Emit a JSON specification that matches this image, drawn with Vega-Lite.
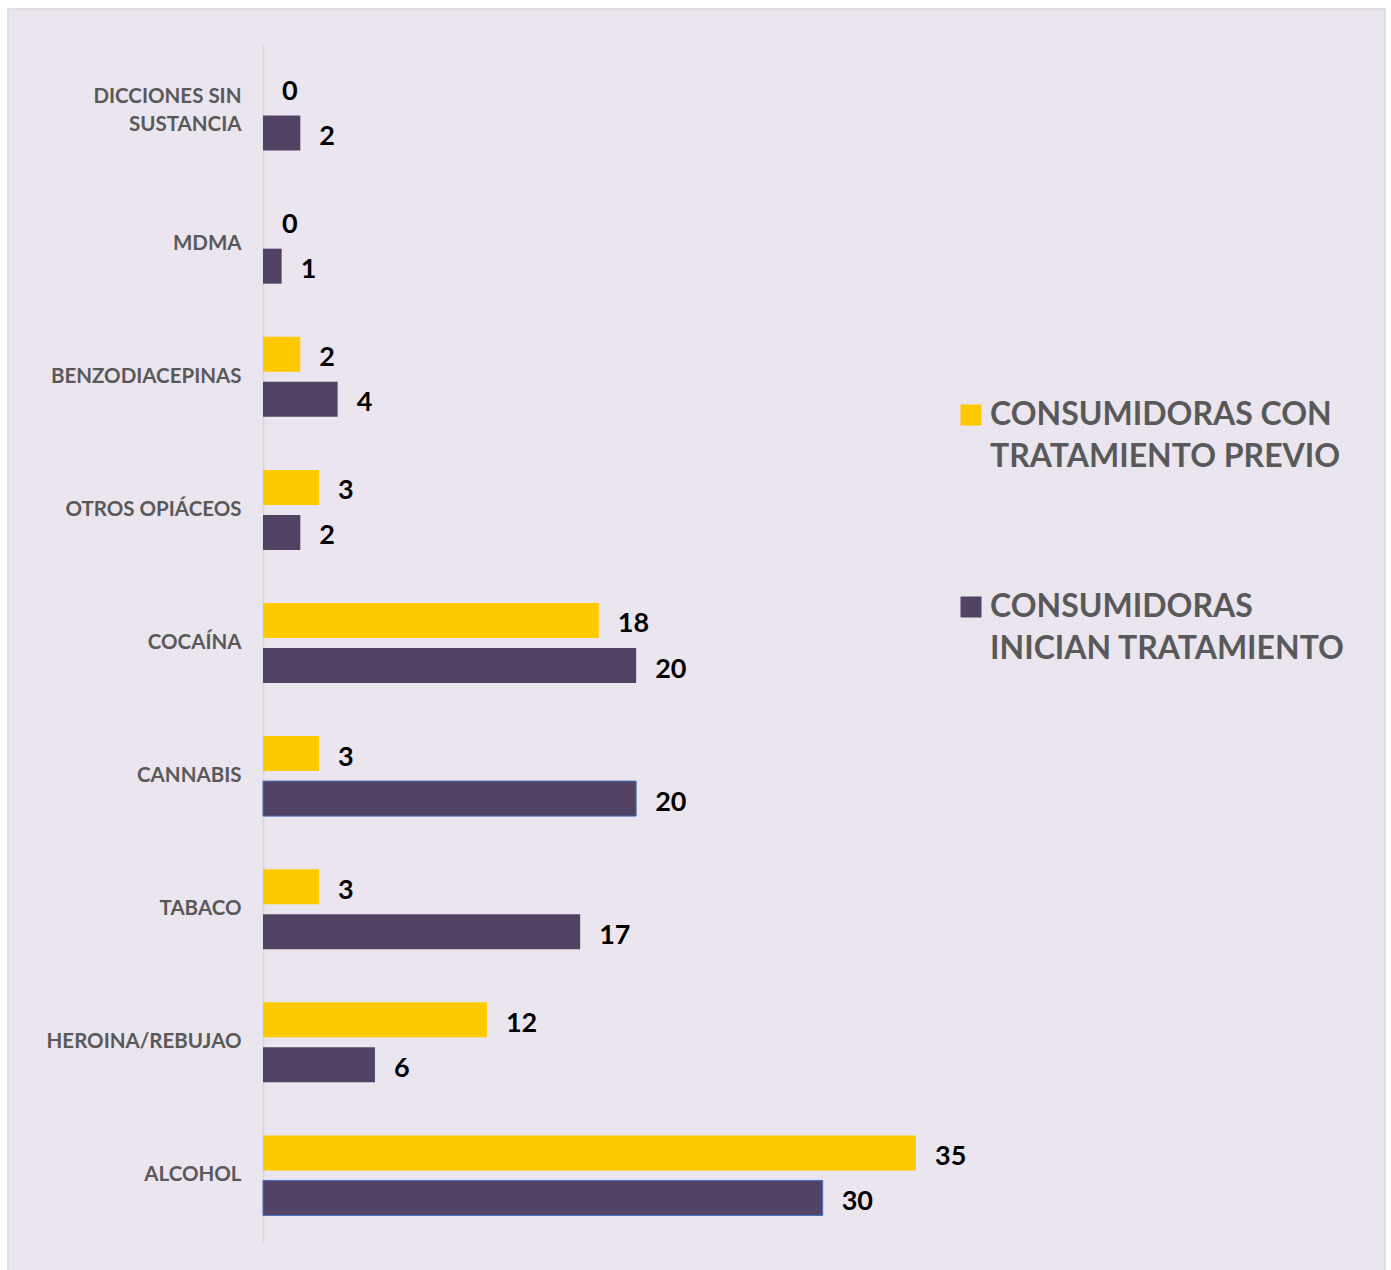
{
  "$schema": "https://vega.github.io/schema/vega-lite/v6.json",
  "width": 1377,
  "height": 1262,
  "autosize": "none",
  "padding": {"left": 8, "top": 9, "right": 6, "bottom": 0},
  "background": "#FFFFFF",
  "config": {
    "view": {"fill": "#EBE5F0", "stroke": "#D9D9D9", "strokeWidth": 1.5},
    "font": "Lato",
    "style": {"guide-label": {"lineHeight": 42}}
  },
  "data": {
    "values": [
      {"category": "DICCIONES SIN SUSTANCIA", "series": "CONSUMIDORAS CON TRATAMIENTO PREVIO", "value": 0},
      {"category": "DICCIONES SIN SUSTANCIA", "series": "CONSUMIDORAS INICIAN TRATAMIENTO", "value": 2},
      {"category": "MDMA", "series": "CONSUMIDORAS CON TRATAMIENTO PREVIO", "value": 0},
      {"category": "MDMA", "series": "CONSUMIDORAS INICIAN TRATAMIENTO", "value": 1},
      {"category": "BENZODIACEPINAS", "series": "CONSUMIDORAS CON TRATAMIENTO PREVIO", "value": 2},
      {"category": "BENZODIACEPINAS", "series": "CONSUMIDORAS INICIAN TRATAMIENTO", "value": 4},
      {"category": "OTROS OPIÁCEOS", "series": "CONSUMIDORAS CON TRATAMIENTO PREVIO", "value": 3},
      {"category": "OTROS OPIÁCEOS", "series": "CONSUMIDORAS INICIAN TRATAMIENTO", "value": 2},
      {"category": "COCAÍNA", "series": "CONSUMIDORAS CON TRATAMIENTO PREVIO", "value": 18},
      {"category": "COCAÍNA", "series": "CONSUMIDORAS INICIAN TRATAMIENTO", "value": 20},
      {"category": "CANNABIS", "series": "CONSUMIDORAS CON TRATAMIENTO PREVIO", "value": 3},
      {"category": "CANNABIS", "series": "CONSUMIDORAS INICIAN TRATAMIENTO", "value": 20},
      {"category": "TABACO", "series": "CONSUMIDORAS CON TRATAMIENTO PREVIO", "value": 3},
      {"category": "TABACO", "series": "CONSUMIDORAS INICIAN TRATAMIENTO", "value": 17},
      {"category": "HEROINA/REBUJAO", "series": "CONSUMIDORAS CON TRATAMIENTO PREVIO", "value": 12},
      {"category": "HEROINA/REBUJAO", "series": "CONSUMIDORAS INICIAN TRATAMIENTO", "value": 6},
      {"category": "ALCOHOL", "series": "CONSUMIDORAS CON TRATAMIENTO PREVIO", "value": 35},
      {"category": "ALCOHOL", "series": "CONSUMIDORAS INICIAN TRATAMIENTO", "value": 30}
    ]
  },
  "encoding": {
    "x": {
      "field": "value",
      "type": "quantitative",
      "scale": {"domain": [0, 35], "range": [255, 908], "nice": false},
      "axis": null
    },
    "y": {
      "field": "category",
      "type": "nominal",
      "sort": ["DICCIONES SIN SUSTANCIA", "MDMA", "BENZODIACEPINAS", "OTROS OPIÁCEOS", "COCAÍNA", "CANNABIS", "TABACO", "HEROINA/REBUJAO", "ALCOHOL"],
      "scale": {"range": [35, 1233], "paddingInner": 0, "paddingOuter": 0},
      "axis": {
        "title": null,
        "offset": -255,
        "domain": true,
        "domainColor": "#D9D9D9",
        "domainWidth": 2,
        "ticks": false,
        "grid": false,
        "labelPadding": 22,
        "labelFont": "Lato",
        "labelFontWeight": "bold",
        "labelFontSize": 20.5,
        "labelColor": "#595959",
        "labelLimit": 300,
        "labelLineHeight": 28,
        "labelOffset": {"condition": {"test": "datum.value == 'DICCIONES SIN SUSTANCIA'", "value": -14}, "value": 0},
        "labelExpr": "datum.value == 'DICCIONES SIN SUSTANCIA' ? ['DICCIONES SIN', 'SUSTANCIA'] : datum.value"
      }
    },
    "yOffset": {
      "field": "series",
      "type": "nominal",
      "sort": ["CONSUMIDORAS CON TRATAMIENTO PREVIO", "CONSUMIDORAS INICIAN TRATAMIENTO"],
      "scale": {"paddingInner": 0.222, "paddingOuter": 0.59}
    }
  },
  "layer": [
    {
      "mark": {"type": "bar"},
      "encoding": {
        "color": {
          "field": "series",
          "type": "nominal",
          "sort": ["CONSUMIDORAS CON TRATAMIENTO PREVIO", "CONSUMIDORAS INICIAN TRATAMIENTO"],
          "scale": {"range": ["#FFC900", "#524364"]},
          "legend": {
            "title": null,
            "orient": "none",
            "legendX": 947,
            "legendY": 390,
            "padding": 0,
            "symbolType": "square",
            "symbolSize": 441,
            "symbolStrokeWidth": 0,
            "symbolOpacity": 1,
            "labelFont": "Lato",
            "labelFontWeight": "bold",
            "labelFontSize": 32,
            "labelColor": "#595959",
            "labelOffset": 3,
            "labelLimit": 500,
            "rowPadding": 118,
            "labelExpr": "datum.value == 'CONSUMIDORAS CON TRATAMIENTO PREVIO' ? ['CONSUMIDORAS CON', 'TRATAMIENTO PREVIO'] : ['CONSUMIDORAS', 'INICIAN TRATAMIENTO']"
          }
        },
        "stroke": {
          "condition": {"test": "(datum.category == 'ALCOHOL' || datum.category == 'CANNABIS') && datum.series == 'CONSUMIDORAS INICIAN TRATAMIENTO'", "value": "#4472C4"},
          "value": null
        },
        "strokeWidth": {"value": 1}
      }
    },
    {
      "mark": {"type": "text", "align": "left", "baseline": "middle", "dx": 19, "dy": 4, "font": "Lato", "fontWeight": "bold", "fontSize": 27, "color": "#000000"},
      "encoding": {
        "text": {"field": "value", "type": "quantitative"}
      }
    }
  ]
}
